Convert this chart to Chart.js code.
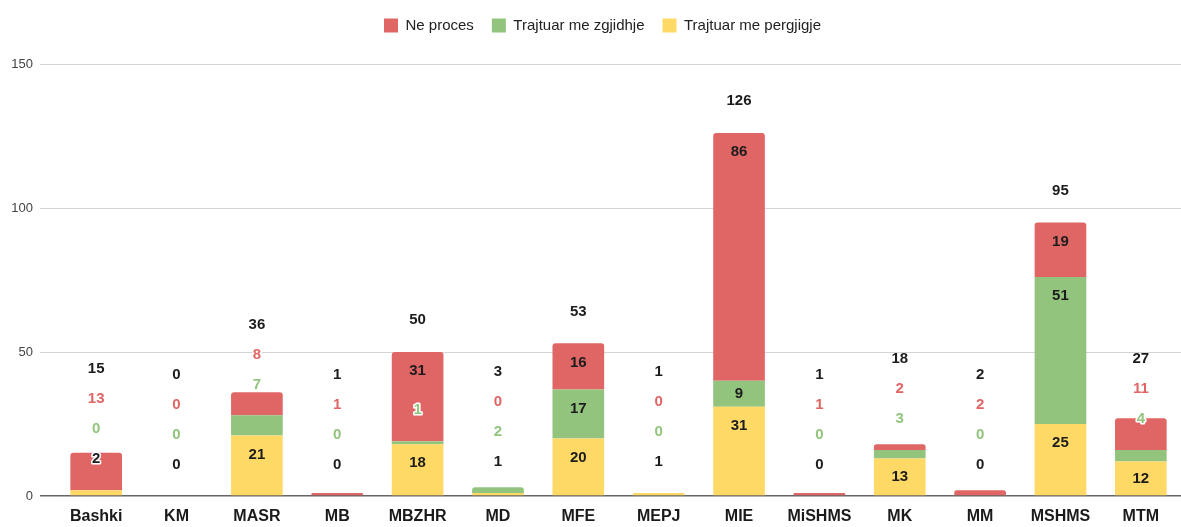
<!DOCTYPE html>
<html>
<head>
<meta charset="utf-8">
<script src="https://cdn.jsdelivr.net/npm/chart.js@4.4.1/dist/chart.umd.min.js"></script>
<style>
  html, body { margin: 0; padding: 0; background: #fff; }
  #wrap { width: 1181px; height: 527px; position: relative; }
</style>
</head>
<body>
<div id="wrap"><canvas id="chart"></canvas></div>
<script>
const categories  = ['Bashki', 'KM', 'MASR', 'MB', 'MBZHR', 'MD', 'MFE', 'MEPJ', 'MIE', 'MiSHMS', 'MK', 'MM', 'MSHMS', 'MTM'];
const neProces    = [13, 0, 8, 1, 31, 0, 16, 0, 86, 1, 2, 2, 19, 11];
const meZgjidhje  = [0, 0, 7, 0, 1, 2, 17, 0, 9, 0, 3, 0, 51, 4];
const mePergjigje = [2, 0, 21, 0, 18, 1, 20, 1, 31, 0, 13, 0, 25, 12];
const yTicks      = [0, 50, 100, 150];

Chart.defaults.font.family = "'Liberation Sans', Arial, sans-serif";

function drawLabel(ctx, text, x, y, color, halo) {
  if (halo) {
    ctx.strokeStyle = '#fff';
    ctx.lineWidth = 3;
    ctx.strokeText(text, x, y);
  }
  ctx.fillStyle = color;
  ctx.fillText(text, x, y);
}

// legjenda: me shume hapesire poshte, pak djathtas
const legendSpace = {
  id: 'legendSpace',
  beforeInit(chart) {
    const fit = chart.legend.fit;
    chart.legend.fit = function () {
      fit.call(this);
      this.height += 21;
    };
  },
  afterLayout(chart) {
    chart.legend.left += 12;
    chart.legend.right += 12;
  }
};

// etiketat e segmenteve + totali, me shtyrje lart kur nuk nxehen
const stackLabels = {
  id: 'stackLabels',
  afterDatasetsDraw(chart) {
    const ctx = chart.ctx, x = chart.scales.x, y = chart.scales.y;
    ctx.save();
    ctx.font = "bold 15px 'Liberation Sans', Arial, sans-serif";
    ctx.textAlign = 'center';
    ctx.textBaseline = 'middle';
    ctx.lineJoin = 'round';
    categories.forEach((c, i) => {
      const cx = x.getPixelForValue(i);
      let cum = 0, prev = Infinity;
      chart.data.datasets.forEach(ds => {
        const v = ds.data[i];
        const bottom = y.getPixelForValue(cum), top = y.getPixelForValue(cum + v);
        cum += v;
        let ly = (bottom - top >= 24) ? Math.min(top + 19, (top + bottom) / 2) : top - 31;
        ly = Math.min(ly, prev - 30);
        prev = ly;
        const inside = ly > top + 7 && ly < bottom - 7;
        drawLabel(ctx, String(v), cx, ly, inside ? '#1c1c1c' : ds.labelColor, !inside);
      });
      const barTop = y.getPixelForValue(cum);
      drawLabel(ctx, String(cum), cx, Math.min(barTop - 32, prev - 30), '#1c1c1c', false);
    });
    ctx.restore();
  }
};

new Chart(document.getElementById('chart'), {
  type: 'bar',
  data: {
    labels: categories,
    datasets: [
      { label: 'Trajtuar me pergjigje', data: mePergjigje, backgroundColor: '#ffd966', labelColor: '#1c1c1c' },
      { label: 'Trajtuar me zgjidhje',  data: meZgjidhje,  backgroundColor: '#93c47d', labelColor: '#93c47d' },
      { label: 'Ne proces',             data: neProces,    backgroundColor: '#e06666', labelColor: '#e06666' },
    ]
  },
  options: {
    responsive: true, maintainAspectRatio: false, animation: false,
    datasets: { bar: { categoryPercentage: 1, barPercentage: 0.643, borderRadius: 3, borderSkipped: 'start' } },
    layout: { padding: 0 },
    plugins: {
      legend: {
        reverse: true,
        labels: { boxWidth: 14, boxHeight: 14, padding: 18, color: '#222', font: { size: 15 } }
      },
      tooltip: { enabled: false }
    },
    scales: {
      x: {
        stacked: true,
        grid: { display: false, drawTicks: false },
        border: { display: false },
        afterFit: s => { s.height = 31; },
        ticks: { color: '#1a1a1a', font: { size: 16, weight: 'bold' }, padding: 11, maxRotation: 0, autoSkip: false }
      },
      y: {
        stacked: true, min: 0, max: 150,
        border: { display: false },
        afterBuildTicks: s => { s.ticks = yTicks.map(v => ({ value: v })); },
        afterFit: s => { s.width = 56; },
        ticks: { color: '#444', font: { size: 13 }, padding: 7 },
        grid: {
          color: c => c.tick && c.tick.value === 0 ? '#666' : '#d4d4d4',
          lineWidth: c => c.tick && c.tick.value === 0 ? 1.5 : 1,
          tickLength: 16
        }
      }
    }
  },
  plugins: [legendSpace, stackLabels]
});
</script>
</body>
</html>
